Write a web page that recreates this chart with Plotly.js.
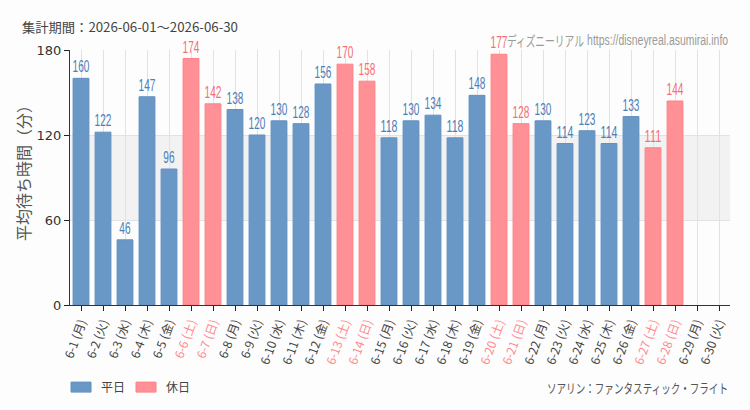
<!DOCTYPE html>
<html>
<head>
<meta charset="utf-8">
<script src="https://cdn.plot.ly/plotly-3.0.1.min.js"></script>
<style>
  html, body { margin: 0; padding: 0; background: #fcfdfc; }
  #chart { width: 750px; height: 410px; }
</style>
</head>
<body>
<div id="chart"></div>
<script>
// Daily average wait times, June 2026
const days = ['6-1','6-2','6-3','6-4','6-5','6-6','6-7','6-8','6-9','6-10',
  '6-11','6-12','6-13','6-14','6-15','6-16','6-17','6-18','6-19','6-20',
  '6-21','6-22','6-23','6-24','6-25','6-26','6-27','6-28','6-29','6-30'];
const weekdays = ['月','火','水','木','金','土','日','月','火','水',
  '木','金','土','日','月','火','水','木','金','土',
  '日','月','火','水','木','金','土','日','月','火'];
const waits = [160,122,46,147,96,174,142,138,120,130,
  128,156,170,158,118,130,134,118,148,177,
  128,130,114,123,114,133,111,144,null,null];
const holiday = [0,0,0,0,0,1,1,0,0,0, 0,0,1,1,0,0,0,0,0,1, 1,0,0,0,0,0,1,1,0,0];
const yTicks = [0, 60, 120, 180];

const BLUE = '#6a98c6', BLUE_TXT = '#4a7fb8';
const PINK = '#ff9095', PINK_TXT = '#f66e77', PINK_TICK = '#ff8a90';
const SANS = '"Liberation Sans", Arial, sans-serif';
const JP = '"Noto Sans CJK JP", sans-serif';

const labels = days.map((d, i) => {
  const t = d + ' (' + weekdays[i] + ')';
  return holiday[i] ? '<span style="color:' + PINK_TICK + '">' + t + '</span>' : t;
});

function series(flag) {
  return waits.map((v, i) => (holiday[i] === flag ? v : null));
}

const weekdayVals = series(0);
const holidayVals = series(1);

function barTrace(name, vals, color, edge, txtColor) {
  return {
    type: 'bar', name: name, x: labels, y: vals,
    marker: { color: color, line: { color: edge, width: 1 } },
    text: vals.map(v => v == null ? '' : String(v)),
    textposition: 'outside', cliponaxis: false,
    constraintext: 'none', textangle: 0,
    textfont: { family: SANS, size: 16, color: txtColor },
    hoverinfo: 'x+y'
  };
}

const traces = [
  barTrace('平日', weekdayVals, BLUE, '#6390c0', BLUE_TXT),
  barTrace('休日', holidayVals, PINK, '#ff8088', PINK_TXT)
];

const layout = {
  width: 750, height: 410,
  margin: { l: 70, r: 20, t: 50, b: 105, autoexpand: false },
  paper_bgcolor: '#fcfdfc', plot_bgcolor: '#fcfdfc',
  barmode: 'overlay', bargap: 0.28,
  font: { family: JP, color: '#444' },
  showlegend: true,
  legend: {
    orientation: 'h', x: -0.0136, xanchor: 'left', y: -0.322, yanchor: 'middle',
    font: { family: JP, size: 12, color: '#444' }, itemwidth: 30,
    entrywidth: 20, bgcolor: 'rgba(0,0,0,0)'
  },
  xaxis: {
    type: 'category', categoryorder: 'array', categoryarray: labels,
    tickangle: -70, ticks: 'outside', ticklen: 5, tickcolor: '#222',
    tickfont: { family: JP, size: 12, color: '#444' },
    showline: true, linecolor: '#333', linewidth: 1,
    showgrid: true, gridcolor: '#e2e2e2', gridwidth: 1,
    range: [-0.5, 29.5], fixedrange: true, automargin: false
  },
  yaxis: {
    range: [0, 180], tickvals: yTicks, ticktext: yTicks.map(String),
    ticks: 'outside', ticklen: 5, tickcolor: '#222',
    tickfont: { family: '"DejaVu Sans", sans-serif', size: 13, color: '#333' },
    showline: true, linecolor: '#333', linewidth: 1,
    showgrid: true, gridcolor: '#e2e2e2', zeroline: false,
    fixedrange: true, automargin: false
  },
  shapes: [
    { type: 'rect', xref: 'paper', yref: 'y', x0: 0, x1: 1, y0: 60, y1: 120,
      fillcolor: '#f2f2f2', line: { width: 0 }, layer: 'below' }
  ],
  annotations: [
    { xref: 'paper', yref: 'paper', x: -0.072, y: 0.535, xanchor: 'center', yanchor: 'middle',
      textangle: -90, showarrow: false, text: '平均待ち時間（分）',
      font: { family: JP, size: 16, color: '#555' } },
    { xref: 'paper', yref: 'paper', x: -0.0758, y: 1.094, xanchor: 'left', yanchor: 'middle',
      align: 'left', showarrow: false, text: '集計期間：2026-06-01～2026-06-30',
      font: { family: JP, size: 12.8, color: '#444' } },
    { xref: 'paper', yref: 'paper', x: 0.782, y: 1.039, xanchor: 'right', yanchor: 'middle',
      align: 'right', showarrow: false, text: 'ディズニーリアル',
      font: { family: JP, size: 14, color: '#9a9a9a' } },
    { xref: 'paper', yref: 'paper', x: 1.0, y: 1.039, xanchor: 'right', yanchor: 'middle',
      align: 'right', showarrow: false, text: 'https://disneyreal.asumirai.info',
      font: { family: SANS, size: 14, color: '#9a9a9a' } },
    { xref: 'paper', yref: 'paper', x: 1.0, y: -0.322, xanchor: 'right', yanchor: 'middle',
      align: 'right', showarrow: false, text: 'ソアリン：ファンタスティック・フライト',
      font: { family: JP, size: 13, color: '#555' } }
  ]
};

// Condense a text node horizontally to a given width
function squeeze(el, width) {
  el.setAttribute('textLength', width);
  el.setAttribute('lengthAdjust', 'spacingAndGlyphs');
}

Plotly.newPlot('chart', traces, layout, { displayModeBar: false, staticPlot: true }).then(gd => {
  // narrow, tall value labels on the bars
  gd.querySelectorAll('text.bartext').forEach(t => {
    const s = t.textContent.trim();
    if (s) squeeze(t, s.length * 5.6);
  });
  // caption widths
  const ann = gd.querySelectorAll('text.annotation-text');
  const widths = [null, 216, 77, 141, 181];
  ann.forEach((t, i) => { if (widths[i]) squeeze(t, widths[i]); });
  // wide flat legend swatches
  gd.querySelectorAll('.legendpoints path').forEach(p => {
    p.setAttribute('d', 'M10,5H-10V-5H10Z');
  });
});
</script>
</body>
</html>
